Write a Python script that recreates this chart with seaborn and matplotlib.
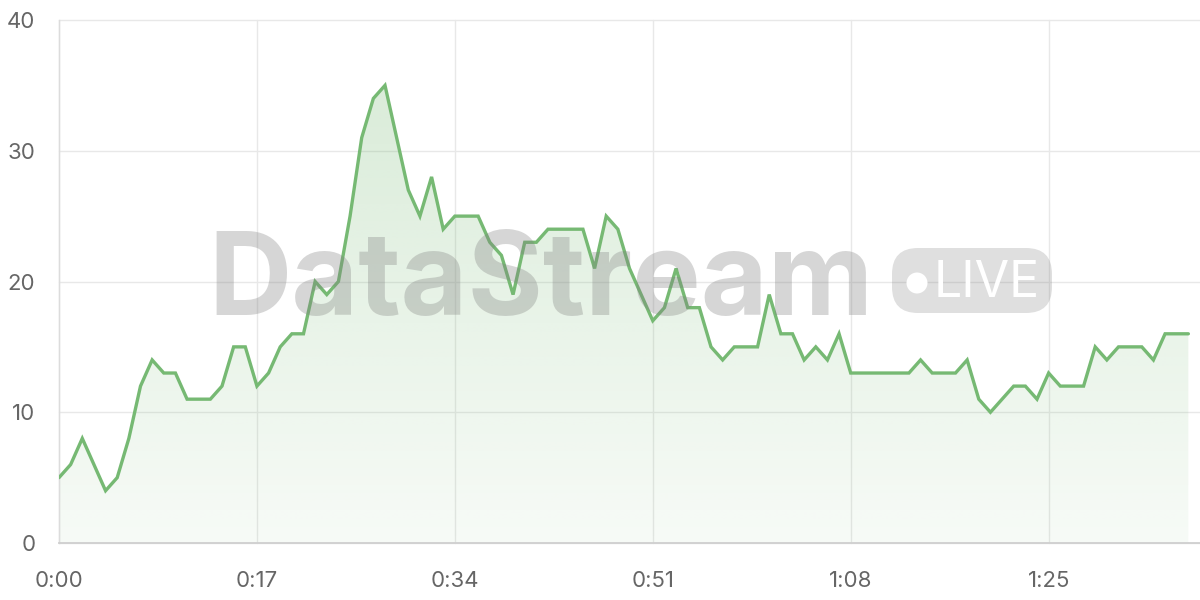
import numpy as np
import pandas as pd
import seaborn as sns
import matplotlib
matplotlib.use("Agg")
import matplotlib.pyplot as plt
from matplotlib.patches import FancyBboxPatch, Circle
from matplotlib.transforms import Affine2D
from matplotlib.ticker import FuncFormatter

# ---------------- data ----------------
seconds = list(range(98))
values = [5, 6, 8, 6, 4, 5, 8, 12, 14, 13,
          13, 11, 11, 11, 12, 15, 15, 12, 13, 15,
          16, 16, 20, 19, 20, 25, 31, 34, 35, 31,
          27, 25, 28, 24, 25, 25, 25, 23, 22, 19,
          23, 23, 24, 24, 24, 24, 21, 25, 24, 21,
          19, 17, 18, 21, 18, 18, 15, 14, 15, 15,
          15, 19, 16, 16, 14, 15, 14, 16, 13, 13,
          13, 13, 13, 13, 14, 13, 13, 13, 14, 11,
          10, 11, 12, 12, 11, 13, 12, 12, 12, 15,
          14, 15, 15, 15, 14, 16, 16, 16]
x_ticks = [0, 17, 34, 51, 68, 85]
y_ticks = [0, 10, 20, 30, 40]
watermark = "DataStream"
badge_text = "LIVE"

df = pd.DataFrame({"t": seconds, "v": values})

sns.set_theme(style="white")
plt.rcParams["font.family"] = ["Inter", "DejaVu Sans"]

LINE = "#76b973"
GRID = "#e8e8e8"

fig = plt.figure(figsize=(12, 6), dpi=100)
W, H = 1200, 600
ax = fig.add_axes([59 / W, 57 / H, 1141 / W, 523 / H])

# gradient fill under the line
poly = ax.fill_between(df["t"], df["v"], 0, color="none", lw=0)
grad = np.zeros((256, 2, 4))
rgb = matplotlib.colors.to_rgb(LINE)
alphas = np.linspace(0.30, 0.06, 256)  # top -> bottom
grad[:, :, 0] = rgb[0]
grad[:, :, 1] = rgb[1]
grad[:, :, 2] = rgb[2]
grad[:, :, 3] = alphas[:, None]
im = ax.imshow(grad, extent=[0, max(seconds), 0, 40], origin="upper",
               aspect="auto", zorder=1, interpolation="bilinear")
path = poly.get_paths()[0]
im.set_clip_path(path, transform=ax.transData)

sns.lineplot(data=df, x="t", y="v", ax=ax, color=LINE, linewidth=2.4,
             zorder=5, solid_joinstyle="miter")

ax.set_xlim(0, 98)
ax.set_ylim(0, 40)
ax.set_xticks(x_ticks)
ax.set_yticks(y_ticks)
ax.xaxis.set_major_formatter(FuncFormatter(lambda v, p: f"{int(v)//60}:{int(v)%60:02d}"))
ax.set_xlabel("")
ax.set_ylabel("")

ax.grid(True, color=GRID, linewidth=1.0, zorder=0)
ax.set_axisbelow(True)
for gl in ax.get_ygridlines() + ax.get_xgridlines():
    gl.set_clip_on(False)

for s in ["top", "right"]:
    ax.spines[s].set_visible(False)
ax.spines["left"].set_color("#dcdcdc")
ax.spines["left"].set_linewidth(1.0)
ax.spines["bottom"].set_color("#cfcfcf")
ax.spines["bottom"].set_linewidth(1.3)

ax.tick_params(axis="both", colors=GRID, length=11.5, width=1.0,
               labelcolor="#666666", labelsize=16)
ax.tick_params(axis="y", pad=5.5)
ax.tick_params(axis="x", pad=9)

# watermark
pix = Affine2D().scale(1 / W, 1 / H) + fig.transFigure
fig.text(208, H - 315, watermark, transform=pix, fontsize=83, fontweight="bold",
         color="#808080", alpha=0.32, ha="left", va="baseline", zorder=3)
badge = FancyBboxPatch((892, H - 313), 160, 65,
                       boxstyle="round,pad=0,rounding_size=26",
                       transform=pix, facecolor="#808080", alpha=0.25,
                       edgecolor="none", zorder=3)
fig.patches.append(badge)
dot = Circle((917, H - 283), 10.5, transform=pix, facecolor="white",
             edgecolor="none", zorder=4)
fig.patches.append(dot)
fig.text(934, H - 297, badge_text, transform=pix, fontsize=36,
         color="white", ha="left", va="baseline", zorder=4)

fig.savefig("out.png", dpi=100)
